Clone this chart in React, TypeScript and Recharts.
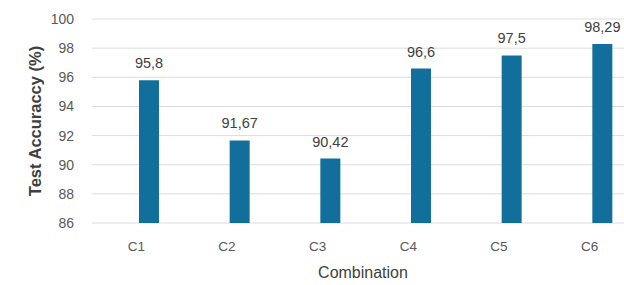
import { BarChart, Bar, XAxis, YAxis, CartesianGrid, LabelList } from "recharts";

const combinations = ["C1", "C2", "C3", "C4", "C5", "C6"];
const accuracy = [95.8, 91.67, 90.42, 96.6, 97.5, 98.29];
const yTicks = [86, 88, 90, 92, 94, 96, 98, 100];

const data = combinations.map((c, i) => ({ name: c, acc: accuracy[i] }));

const FONT = "'Liberation Sans', Arial, sans-serif";
const fmtComma = (v: number) => String(v).replace(".", ",");

function YLabel({ viewBox }: { viewBox?: { x: number; y: number; width: number; height: number } }) {
  if (!viewBox) return null;
  const cx = 35;
  const cy = viewBox.y + viewBox.height / 2;
  return (
    <text x={cx} y={cy} transform={`rotate(-90 ${cx} ${cy})`} textAnchor="middle" dominantBaseline="central"
      fontSize={16.5} fontWeight="bold" fill="#404040" fontFamily={FONT}>
      Test Accuraccy (%)
    </text>
  );
}

function XLabel({ viewBox }: { viewBox?: { x: number; y: number; width: number; height: number } }) {
  if (!viewBox) return null;
  return (
    <text x={363} y={272} textAnchor="middle" dominantBaseline="central"
      fontSize={16} fill="#404040" fontFamily={FONT}>
      Combination
    </text>
  );
}

export default function App() {
  return (
    <div style={{ position: "fixed", left: 0, top: 0, width: 624, height: 285, overflow: "hidden", background: "#fff" }}>
      <BarChart width={660} height={285} data={data} margin={{ top: 19, right: 0, bottom: 0, left: 0 }}>
        <CartesianGrid vertical={false} stroke="#dcdcdc" />
        <XAxis
          dataKey="name"
          height={62}
          padding={{ left: 12, right: 12 }}
          axisLine={false}
          tickLine={false}
          tickMargin={12}
          tick={{ fontSize: 13.5, fill: "#595959", fontFamily: FONT, dx: -13 }}
          label={<XLabel />}
        />
        <YAxis
          width={92}
          domain={[86, 100]}
          ticks={yTicks}
          axisLine={false}
          tickLine={false}
          tickMargin={12}
          tick={{ fontSize: 14, fill: "#595959", fontFamily: FONT }}
          label={<YLabel />}
        />
        <Bar dataKey="acc" fill="#126f9c" barSize={20} isAnimationActive={false}>
          <LabelList dataKey="acc" position="top" offset={12} formatter={(v: number) => fmtComma(v)}
            style={{ fontSize: 14.5, fill: "#404040", fontFamily: FONT }} />
        </Bar>
      </BarChart>
    </div>
  );
}
